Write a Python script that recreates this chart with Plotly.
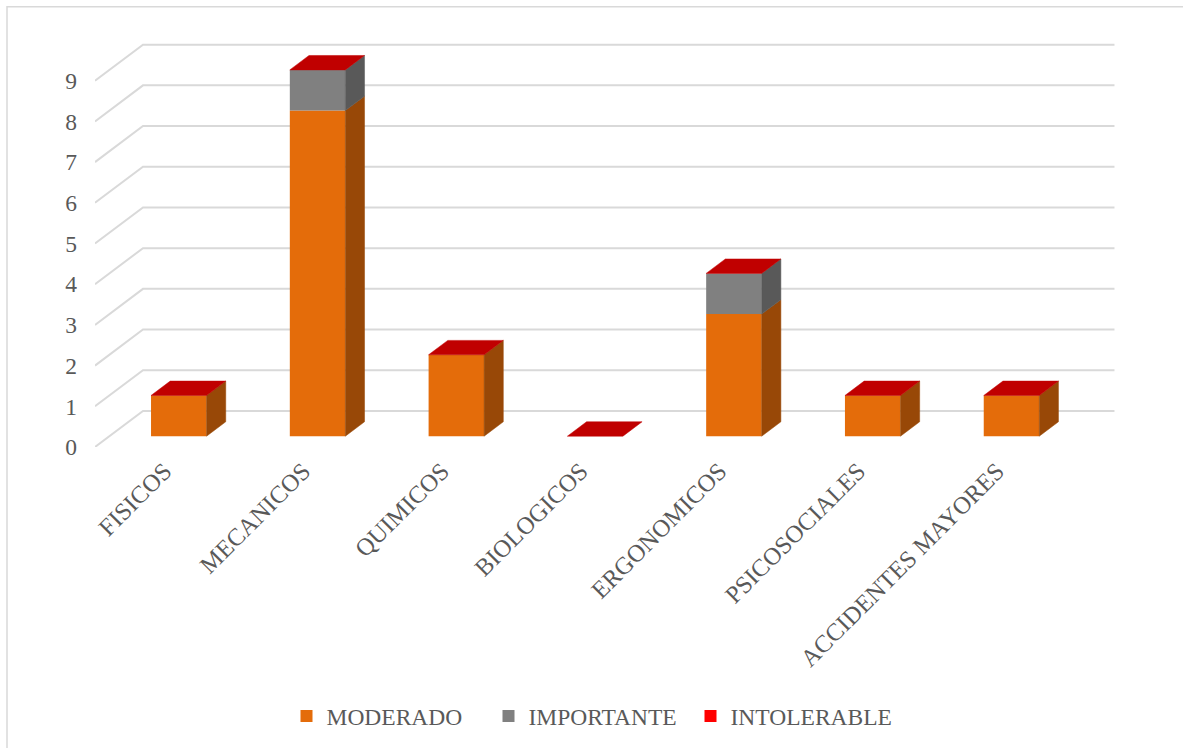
import plotly.graph_objects as go

# Risk categories and number of hazards by risk level
categorias = ["FISICOS", "MECANICOS", "QUIMICOS", "BIOLOGICOS",
              "ERGONOMICOS", "PSICOSOCIALES", "ACCIDENTES MAYORES"]
moderado = [1, 8, 2, 0, 3, 1, 1]
importante = [0, 1, 0, 0, 1, 0, 0]
intolerable = [0, 0, 0, 0, 0, 0, 0]
valores_eje_y = list(range(10))

# --- pseudo 3D projection -------------------------------------------------
W, H = 1183, 748
PX_X = 138.8          # pixels per category slot
PX_Y = 40.67          # pixels per unit of value
DX = 48 / PX_X        # full floor depth, expressed in x units
DY = 36 / PX_Y        # full floor depth, expressed in y units
D0, D1 = 0.3, 0.7     # front / back of the bars inside the depth
BAR_W = 0.4

X_RANGE = [-0.5, 6.9]
Y_RANGE = [0, 10]
plot_w = (X_RANGE[1] - X_RANGE[0]) * PX_X
plot_h = (Y_RANGE[1] - Y_RANGE[0]) * PX_Y
M_L = 95
M_B = 301
M_R = W - M_L - plot_w
M_T = H - M_B - plot_h

TXT = "#595959"
FONT = "Liberation Serif"

series = [
    ("MODERADO", moderado, "#E46C0A", "#984807"),
    ("IMPORTANTE", importante, "#808080", "#595959"),
    ("INTOLERABLE", intolerable, "#FF0000", "#A00000"),
]
TOP_COLOR = "#C00000"

fig = go.Figure()

# front faces (stacked, shifted into the depth)
xs = [i + D0 * DX for i in range(len(categorias))]
acum = [0] * len(categorias)
for nombre, vals, color, _ in series:
    base = [a + D0 * DY for a in acum]
    fig.add_trace(go.Bar(
        x=xs, y=vals, base=base, width=BAR_W, name=nombre,
        marker=dict(color=color, line=dict(width=0)),
        hoverinfo="skip",
    ))
    acum = [a + v for a, v in zip(acum, vals)]

# right side faces of every stacked segment
ddx = (D1 - D0) * DX
ddy = (D1 - D0) * DY
acum = [0] * len(categorias)
for nombre, vals, _, lado in series:
    for i, v in enumerate(vals):
        if v <= 0:
            continue
        xr = i + BAR_W / 2 + D0 * DX
        y0 = acum[i] + D0 * DY
        y1 = acum[i] + v + D0 * DY
        fig.add_trace(go.Scatter(
            x=[xr, xr + ddx, xr + ddx, xr, xr],
            y=[y0, y0 + ddy, y1 + ddy, y1, y0],
            mode="lines", fill="toself", fillcolor=lado,
            line=dict(color=lado, width=0.5),
            showlegend=False, hoverinfo="skip",
        ))
    acum = [a + v for a, v in zip(acum, vals)]

# top faces
for i, h in enumerate(acum):
    xl = i - BAR_W / 2 + D0 * DX
    xr = i + BAR_W / 2 + D0 * DX
    yt = h + D0 * DY
    fig.add_trace(go.Scatter(
        x=[xl, xr, xr + ddx, xl + ddx, xl],
        y=[yt, yt, yt + ddy, yt + ddy, yt],
        mode="lines", fill="toself", fillcolor=TOP_COLOR,
        line=dict(color=TOP_COLOR, width=0.5),
        showlegend=False, hoverinfo="skip",
    ))

# gridlines: diagonal on the floor edge, then along the back wall
shapes = []
x_ini, x_fin = -0.5, len(categorias) - 0.5
for v in valores_eje_y:
    shapes.append(dict(
        type="path", xref="x", yref="y", layer="below",
        path=f"M {x_ini},{v} L {x_ini + DX},{v + DY} L {x_fin + DX},{v + DY}",
        line=dict(color="#D9D9D9", width=2),
    ))

# chart area border
px2x = lambda px: (px - M_L) / plot_w
px2y = lambda py: (H - M_B - py) / plot_h
shapes.append(dict(
    type="rect", xref="paper", yref="paper",
    x0=px2x(7), y0=px2y(770), x1=px2x(1200), y1=px2y(7),
    line=dict(color="#D9D9D9", width=1.5), layer="below",
))

fig.update_layout(
    width=W, height=H,
    margin=dict(l=M_L, r=M_R, t=M_T, b=M_B, autoexpand=False),
    paper_bgcolor="white", plot_bgcolor="white",
    barmode="overlay",
    shapes=shapes,
    font=dict(family=FONT, size=23.5, color=TXT),
    showlegend=True,
    legend=dict(
        orientation="h", x=0.5 - 19 / plot_w, xanchor="center",
        y=px2y(716), yanchor="middle",
        traceorder="normal", font=dict(size=23.5, color=TXT),
        entrywidth=157, entrywidthmode="pixels",
        bgcolor="rgba(0,0,0,0)",
    ),
    xaxis=dict(
        range=X_RANGE, tickvals=list(range(len(categorias))),
        ticktext=categorias, tickangle=-45,
        showgrid=False, zeroline=False, showline=False, ticks="",
        ticklabelstandoff=4,
        automargin=False, fixedrange=True,
        tickfont=dict(family=FONT, size=24.5, color=TXT),
    ),
    yaxis=dict(
        range=Y_RANGE, tickvals=valores_eje_y,
        showgrid=False, zeroline=False, showline=False, ticks="",
        ticklabelstandoff=17, automargin=False, fixedrange=True,
        tickfont=dict(family=FONT, size=23.5, color=TXT),
    ),
)

fig.write_html("out.html")
